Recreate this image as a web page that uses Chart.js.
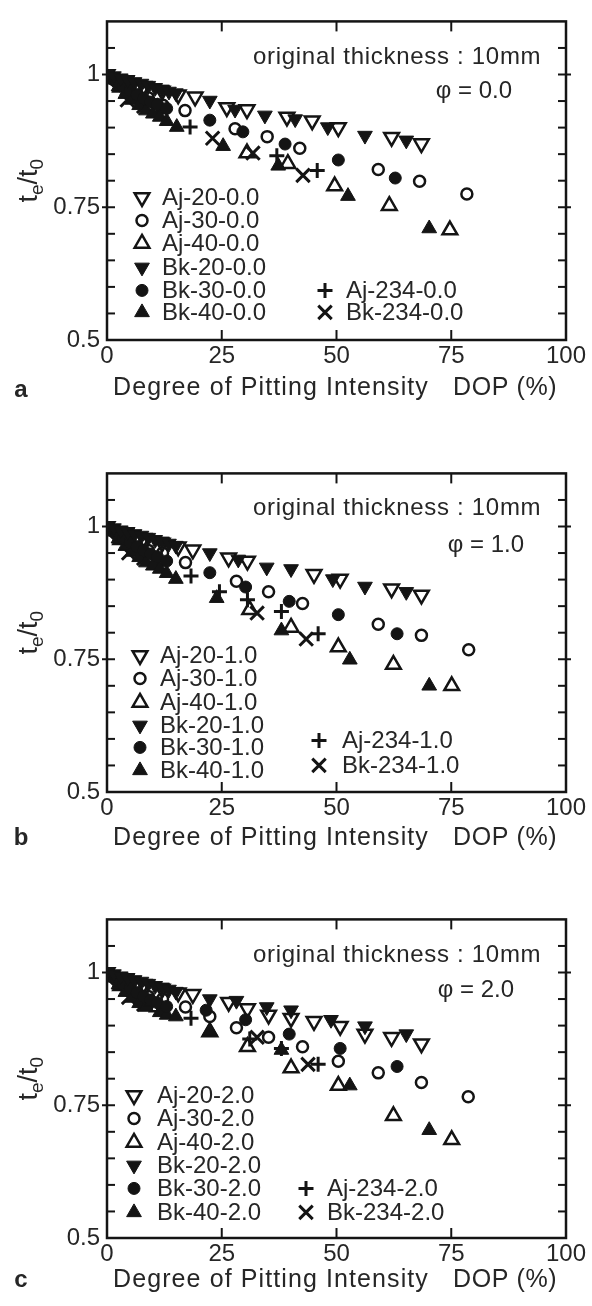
<!DOCTYPE html>
<html>
<head>
<meta charset="utf-8">
<script src="https://cdn.jsdelivr.net/npm/chart.js@4.4.1/dist/chart.umd.min.js"></script>
<style>
  html, body { margin: 0; padding: 0; background: #fff; }
  #wrap { position: relative; width: 592px; height: 1306px; }
  canvas { position: absolute; left: 0; }
</style>
</head>
<body>
<div id="wrap">
  <canvas id="ca" width="592" height="420" style="top:0px"></canvas>
  <canvas id="cb" width="592" height="420" style="top:452px"></canvas>
  <canvas id="cc" width="592" height="408" style="top:898px"></canvas>
</div>
<script>
// axes
const xTicks = [0, 25, 50, 75, 100];
const yTicks = [0.5, 0.75, 1];
const seriesNames = ['Aj-20', 'Aj-30', 'Aj-40', 'Bk-20', 'Bk-30', 'Bk-40', 'Aj-234', 'Bk-234'];

// a : phi = 0.0   [DOP %, te/t0]
const aj20a = [[0,1],[4,0.988],[8,0.978],[12,0.969],[15.5,0.962],[19.2,0.958],[26.1,0.938],[30.5,0.934],[39.2,0.92],[44.7,0.913],[50.4,0.9],[62,0.882],[68.5,0.87]];
const aj30a = [[1.5,0.99],[5,0.972],[9,0.956],[12.2,0.942],[17,0.932],[27.9,0.898],[34.9,0.883],[42,0.861],[59.1,0.821],[68.1,0.799],[78.4,0.775]];
const aj40a = [[3,0.976],[7,0.955],[11,0.936],[30.5,0.852],[39.4,0.832],[49.6,0.79],[61.5,0.753],[74.7,0.707]];
const bk20a = [[0,1],[1.5,0.997],[3,0.993],[4.5,0.99],[6,0.986],[7.5,0.983],[9,0.979],[10.5,0.975],[12,0.972],[13.5,0.968],[15,0.965],[22.4,0.951],[27.9,0.934],[34.4,0.923],[41,0.916],[48.1,0.901],[56.2,0.885],[65.2,0.876]];
const bk30a = [[2,0.986],[3.5,0.978],[5,0.97],[6.5,0.962],[8,0.955],[9.5,0.948],[11,0.944],[13,0.936],[22.4,0.914],[29.6,0.892],[38.8,0.869],[50.4,0.839],[62.8,0.805]];
const bk40a = [[1,0.99],[2.5,0.977],[4,0.963],[5.5,0.952],[7,0.942],[8.5,0.932],[10,0.926],[11.5,0.92],[13,0.912],[15.2,0.901],[25.3,0.865],[37.3,0.828],[52.5,0.771],[70.2,0.71]];
const aj234a = [[3,0.98],[7,0.96],[11,0.94],[18.1,0.901],[37,0.847],[45.8,0.819]];
const bk234a = [[4.4,0.952],[8,0.94],[23,0.88],[31.8,0.852],[42.7,0.81]];

// b : phi = 1.0
const aj20b = [[0,1],[4,0.988],[8,0.978],[12,0.969],[15.5,0.962],[18.7,0.956],[26.5,0.941],[30.6,0.935],[45.1,0.91],[50.8,0.901],[62,0.883],[68.5,0.871]];
const aj30b = [[1.5,0.99],[5,0.972],[9,0.955],[12.1,0.95],[17.1,0.932],[28.2,0.897],[35.2,0.877],[42.6,0.855],[59.1,0.816],[68.5,0.795],[78.8,0.768]];
const aj40b = [[3,0.975],[7,0.955],[11,0.935],[31.1,0.843],[40.1,0.81],[50.4,0.773],[62.4,0.74],[75.1,0.7]];
const bk20b = [[0,1],[1.5,0.997],[3,0.993],[4.5,0.99],[6,0.986],[7.5,0.983],[9,0.979],[10.5,0.975],[12,0.972],[13.5,0.968],[15,0.964],[22.4,0.95],[28.6,0.938],[34.8,0.923],[40.1,0.92],[49.2,0.901],[56.2,0.887],[65.2,0.877]];
const bk30b = [[2,0.985],[3.5,0.978],[5,0.97],[6.5,0.962],[8,0.955],[9.5,0.948],[11,0.943],[13,0.935],[22.4,0.913],[30.2,0.886],[39.7,0.859],[50.4,0.834],[63.2,0.798]];
const bk40b = [[1,0.99],[2.5,0.977],[4,0.963],[5.5,0.952],[7,0.942],[8.5,0.932],[10,0.926],[11.5,0.92],[13,0.912],[15,0.901],[23.9,0.865],[38,0.804],[52.9,0.749],[70.2,0.7]];
const aj234b = [[3,0.98],[7,0.96],[11,0.94],[18.3,0.907],[24.5,0.877],[30.6,0.862],[38,0.84],[46,0.798]];
const bk234b = [[4.7,0.95],[8,0.94],[32.7,0.837],[43.4,0.788]];

// c : phi = 2.0
const aj20c = [[0,1],[4,0.988],[8,0.978],[12,0.969],[15.5,0.962],[18.7,0.959],[26.5,0.944],[30.6,0.932],[35.2,0.92],[40.1,0.914],[45.1,0.908],[50.8,0.899],[56.2,0.884],[62,0.878],[68.5,0.866]];
const aj30c = [[1.5,0.99],[5,0.972],[9,0.955],[12.1,0.95],[17.1,0.935],[22.4,0.917],[28.2,0.896],[35.2,0.878],[42.6,0.86],[50.4,0.833],[59.1,0.811],[68.5,0.793],[78.7,0.766]];
const aj40c = [[3,0.975],[7,0.955],[11,0.935],[22.4,0.888],[30.6,0.86],[40.1,0.82],[50.4,0.787],[62.4,0.73],[75.1,0.685]];
const bk20c = [[0,1],[1.5,0.997],[3,0.993],[4.5,0.99],[6,0.986],[7.5,0.983],[9,0.979],[10.5,0.975],[12,0.972],[13.5,0.968],[15,0.964],[22.4,0.95],[28.2,0.947],[34.8,0.935],[40.1,0.929],[48.8,0.911],[56.2,0.899],[65.2,0.884]];
const bk30c = [[2,0.985],[3.5,0.978],[5,0.97],[6.5,0.962],[8,0.955],[9.5,0.948],[11,0.943],[13,0.936],[21.6,0.929],[30.2,0.911],[39.7,0.884],[50.8,0.857],[63.2,0.823]];
const bk40c = [[1,0.99],[2.5,0.977],[4,0.963],[5.5,0.952],[7,0.942],[8.5,0.935],[9.6,0.944],[11.5,0.925],[13,0.92],[15,0.917],[22.4,0.89],[38,0.854],[52.9,0.787],[70.2,0.703]];
const aj234c = [[3,0.98],[7,0.96],[11,0.94],[18.3,0.914],[31.1,0.875],[38,0.857],[46,0.827]];
const bk234c = [[4.7,0.953],[8,0.94],[32.7,0.878],[43.8,0.827]];

const FF = '"Liberation Sans", Arial, Helvetica, sans-serif';
const INK = '#141414';
const TXT = '#262626';

// marker look per series (same order as seriesNames)
const markers = [
  { pointStyle: 'triangle', rotation: 180, radius: 8.5, bg: '#fff', bw: 2.5 },
  { pointStyle: 'circle', rotation: 0, radius: 5.5, bg: '#fff', bw: 2.5 },
  { pointStyle: 'triangle', rotation: 0, radius: 8.5, bg: '#fff', bw: 2.5 },
  { pointStyle: 'triangle', rotation: 180, radius: 8.5, bg: INK, bw: 1 },
  { pointStyle: 'circle', rotation: 0, radius: 6, bg: INK, bw: 1 },
  { pointStyle: 'triangle', rotation: 0, radius: 8.5, bg: INK, bw: 1 },
  { pointStyle: 'cross', rotation: 0, radius: 7.5, bg: INK, bw: 3 },
  { pointStyle: 'crossRot', rotation: 0, radius: 9.5, bg: INK, bw: 3 }
];
// filled series are drawn last (on top), like the dense black cluster near DOP 0
const drawOrder = [5, 5, 5, 1, 1, 1, 3, 2];

const panels = [
  { id: 'ca', phi: '0.0', letter: 'a', data: [aj20a, aj30a, aj40a, bk20a, bk30a, bk40a, aj234a, bk234a],
    axisH: 80, rows: [176, 199, 222, 246, 269, 291], mx: 142, tx: 162, mx2: 325, tx2: 346, rows2: [269, 291],
    noteY: 36, phiX: 474, phiY: 70, titleDy: 48, letterDy: 50 },
  { id: 'cb', phi: '1.0', letter: 'b', data: [aj20b, aj30b, aj40b, bk20b, bk30b, bk40b, aj234b, bk234b],
    axisH: 80, rows: [182, 205, 229, 252, 274, 297], mx: 140, tx: 160, mx2: 319, tx2: 342, rows2: [267, 292],
    noteY: 35, phiX: 486, phiY: 72, titleDy: 46, letterDy: 46 },
  { id: 'cc', phi: '2.0', letter: 'c', data: [aj20c, aj30c, aj40c, bk20c, bk30c, bk40c, aj234c, bk234c],
    axisH: 68, rows: [176, 199, 223, 246, 269, 293], mx: 134, tx: 157, mx2: 306, tx2: 327, rows2: [269, 293],
    noteY: 36, phiX: 476, phiY: 71, titleDy: 42, letterDy: 42 }
];

function line(ctx, x1, y1, x2, y2) {
  ctx.beginPath();
  ctx.moveTo(x1, y1);
  ctx.lineTo(x2, y2);
  ctx.stroke();
}

// frame, inward ticks, titles, notes and the legend
const deco = {
  id: 'deco',
  afterDraw(chart, args, o) {
    const { ctx, chartArea: a, scales: { x, y } } = chart;
    ctx.save();
    ctx.strokeStyle = INK;
    ctx.lineWidth = 2.5;
    ctx.strokeRect(a.left, a.top, a.right - a.left, a.bottom - a.top);

    ctx.lineWidth = 2;
    xTicks.slice(1, -1).forEach(v => {
      const px = x.getPixelForValue(v);
      line(ctx, px, a.bottom, px, a.bottom - 10);
      line(ctx, px, a.top, px, a.top + 10);
    });
    for (let k = 1; k < 12; k++) {
      const v = +(0.5 + k * 0.05).toFixed(2);
      const py = y.getPixelForValue(v);
      const major = yTicks.includes(v);
      line(ctx, a.left - (major ? 5 : 0), py, a.left + 8, py);
      line(ctx, a.right - 8, py, a.right + (major ? 5 : 0), py);
    }

    ctx.fillStyle = TXT;
    ctx.textBaseline = 'middle';

    // notes
    ctx.font = '24px ' + FF;
    ctx.letterSpacing = '0.7px';
    ctx.textAlign = 'left';
    ctx.fillText('original thickness : 10mm', 253, a.top + o.noteY);
    ctx.letterSpacing = '0px';
    ctx.textAlign = 'center';
    ctx.fillText('\u03c6 = ' + o.phi, o.phiX, a.top + o.phiY);

    // x title and panel letter
    ctx.font = '25px ' + FF;
    ctx.letterSpacing = '1.1px';
    ctx.textAlign = 'left';
    ctx.fillText('Degree of Pitting Intensity', 113, a.bottom + o.titleDy);
    ctx.letterSpacing = '0.6px';
    ctx.fillText('DOP (%)', 453, a.bottom + o.titleDy);
    ctx.letterSpacing = '0px';
    ctx.font = 'bold 24px ' + FF;
    ctx.textAlign = 'center';
    ctx.fillText(o.letter, 21, a.bottom + o.letterDy);

    // y title t_e / t_0
    ctx.save();
    ctx.translate(28, (a.top + a.bottom) / 2);
    ctx.rotate(-Math.PI / 2);
    ctx.textAlign = 'left';
    ctx.textBaseline = 'alphabetic';
    const big = '27px ' + FF, small = '19px ' + FF;
    ctx.font = big;
    const wt = ctx.measureText('t').width, ws = ctx.measureText('/t').width;
    ctx.font = small;
    const we = ctx.measureText('e').width, w0 = ctx.measureText('0').width;
    let u = -(wt + we + ws + w0) / 2;
    ctx.font = big; ctx.fillText('t', u, 9); u += wt;
    ctx.font = small; ctx.fillText('e', u, 15); u += we;
    ctx.font = big; ctx.fillText('/t', u, 9); u += ws;
    ctx.font = small; ctx.fillText('0', u, 15);
    ctx.restore();

    // legend
    ctx.font = '24px ' + FF;
    ctx.textAlign = 'left';
    ctx.textBaseline = 'middle';
    seriesNames.forEach((name, i) => {
      const m = markers[i];
      const col2 = i >= 6;
      const mx = col2 ? o.mx2 : o.mx;
      const tx = col2 ? o.tx2 : o.tx;
      const yy = a.top + (col2 ? o.rows2[i - 6] : o.rows[i]);
      ctx.fillStyle = m.bg;
      ctx.strokeStyle = INK;
      ctx.lineWidth = m.bw;
      Chart.helpers.drawPoint(ctx, { pointStyle: m.pointStyle, rotation: m.rotation, radius: m.radius, borderWidth: m.bw }, mx, yy);
      ctx.fillStyle = TXT;
      ctx.fillText(name + '-' + o.phi, tx, yy + 1);
    });
    ctx.restore();
  }
};

panels.forEach(p => {
  const datasets = seriesNames.map((name, i) => {
    const m = markers[i];
    return {
      label: name + '-' + p.phi,
      data: p.data[i].map(d => ({ x: d[0], y: d[1] })),
      order: drawOrder[i],
      pointStyle: m.pointStyle,
      rotation: m.rotation,
      pointRadius: m.radius,
      pointBackgroundColor: m.bg,
      pointBorderColor: INK,
      pointBorderWidth: m.bw,
      showLine: false
    };
  });

  new Chart(document.getElementById(p.id), {
    type: 'scatter',
    data: { datasets },
    plugins: [deco],
    options: {
      responsive: false,
      animation: false,
      events: [],
      layout: { padding: { top: 11, right: 26, left: 0, bottom: 0 } },
      plugins: {
        legend: { display: false },
        tooltip: { enabled: false },
        deco: { phi: p.phi, letter: p.letter, rows: p.rows, rows2: p.rows2, mx: p.mx, tx: p.tx, mx2: p.mx2, tx2: p.tx2,
                noteY: p.noteY, phiX: p.phiX, phiY: p.phiY, titleDy: p.titleDy, letterDy: p.letterDy }
      },
      scales: {
        x: {
          type: 'linear', min: 0, max: 100,
          afterBuildTicks: s => { s.ticks = xTicks.map(v => ({ value: v })); },
          afterFit: s => { s.height = p.axisH; },
          grid: { display: false, drawTicks: false },
          border: { display: false },
          ticks: { color: TXT, font: { family: FF, size: 24 }, padding: 2, maxRotation: 0 }
        },
        y: {
          type: 'linear', min: 0.5, max: 1.1,
          afterBuildTicks: s => { s.ticks = yTicks.map(v => ({ value: v })); },
          afterFit: s => { s.width = 107; },
          grid: { display: false, drawTicks: false },
          border: { display: false },
          ticks: { color: TXT, font: { family: FF, size: 24 }, padding: 7, callback: v => String(v) }
        }
      }
    }
  });
});
</script>
</body>
</html>
